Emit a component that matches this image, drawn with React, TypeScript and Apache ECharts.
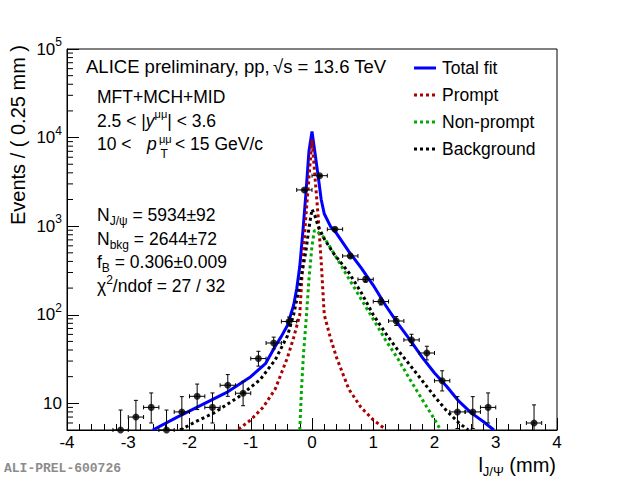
import React, { useRef, useEffect } from "react";
import * as echarts from "echarts";

const FONT = '"Liberation Sans", Arial, Helvetica, sans-serif';

// Data histogram (bins of 0.25 mm), only the bins visible above the y minimum
const binCenters = [
  -3.125, -2.875, -2.625, -2.375, -2.125, -1.875, -1.625, -1.375, -1.125, -0.875, -0.625, -0.375, -0.125,
  0.125, 0.375, 0.625, 0.875, 1.125, 1.375, 1.625, 1.875, 2.125, 2.375, 2.625, 2.875, 3.625,
];
const counts = [5, 7, 9, 5, 8, 12, 9, 16, 13, 32, 48, 84, 2565, 3715, 922, 461, 251, 141, 85, 52, 37, 18, 8, 8, 9, 6];
const errLow = [2.2, 2.6, 3.0, 2.2, 2.8, 3.5, 3.0, 4.0, 3.6, 5.7, 6.9, 9.2, 51, 61, 30, 21, 16, 12, 9.2, 7.2, 6.1, 4.2, 2.8, 2.8, 3.0, 2.4];
const errHigh = [3.4, 3.8, 4.1, 3.4, 3.9, 4.5, 4.1, 5.1, 4.7, 6.7, 7.9, 10.2, 52, 62, 31, 22, 17, 13, 10.2, 8.2, 7.1, 5.3, 3.9, 3.9, 4.1, 3.6];
const binHalf = 0.125;

// Fit components
const totalX = [-2.6, -2.2, -1.8, -1.4, -1.0, -0.76, -0.6, -0.5, -0.4, -0.3, -0.25, -0.2, -0.15, -0.1, -0.05, 0, 0.05, 0.1, 0.15, 0.2, 0.3, 0.4, 0.6, 0.8, 1.0, 1.2, 1.4, 1.6, 1.8, 2.0, 2.2, 2.4, 2.6, 2.8, 2.97];
const totalY = [5.0, 7.0, 9.6, 13.2, 20, 28, 44, 57, 76, 128, 195, 350, 850, 2300, 7000, 11700, 6600, 3700, 2000, 1380, 1000, 830, 520, 340, 215, 128, 80, 52, 33, 22, 15.5, 10.5, 7.8, 6.2, 5.0];

const promptX = [-1.2, -1.0, -0.8, -0.6, -0.4, -0.3, -0.2, -0.15, -0.1, -0.05, 0, 0.05, 0.1, 0.15, 0.2, 0.3, 0.4, 0.6, 0.8, 1.0, 1.2];
const promptY = [5.1, 6.5, 9.0, 14.5, 33, 55, 100, 400, 1300, 3500, 9500, 3500, 1300, 400, 100, 55, 33, 14.5, 9.0, 6.5, 5.1];

const nonPromptX = [-0.2, -0.17, -0.14, -0.1, -0.05, 0, 0.04, 0.1, 0.2, 0.4, 0.6, 0.8, 1.0, 1.2, 1.4, 1.6, 1.8, 2.0, 2.1];
const nonPromptY = [5.0, 15, 35, 80, 250, 600, 900, 850, 740, 440, 257, 151, 89, 52, 32, 18.6, 11, 6.6, 5.0];

const bkgX = [-2.15, -1.9, -1.6, -1.2, -0.85, -0.6, -0.4, -0.3, -0.2, -0.1, -0.05, 0, 0.05, 0.1, 0.2, 0.35, 0.6, 0.8, 1.0, 1.2, 1.4, 1.6, 1.8, 2.0, 2.2, 2.4, 2.55];
const bkgY = [5.0, 6.2, 7.8, 11.8, 18.4, 31, 58, 100, 215, 520, 950, 1550, 1300, 1000, 720, 494, 300, 180, 100, 62, 40, 27, 18, 12, 8.2, 6.0, 5.0];

const yMin = 5;
const yMax = 100000;
const yMinorTicks = [
  6, 7, 8, 9, 20, 30, 40, 50, 60, 70, 80, 90, 200, 300, 400, 500, 600, 700, 800, 900,
  2000, 3000, 4000, 5000, 6000, 7000, 8000, 9000, 20000, 30000, 40000, 50000, 60000, 70000, 80000, 90000,
];

const legendNames = ["Total fit", "Prompt", "Non-prompt", "Background"];
const legendColors = ["#0000ff", "#aa0000", "#00aa00", "#000000"];

const zip = (xs: number[], ys: number[]) => xs.map((x, i) => [x, ys[i]]);

const richBase = {
  m: { fontSize: 17.5, lineHeight: 24, verticalAlign: "middle", fontFamily: FONT },
  big: { fontSize: 18.5, lineHeight: 24, verticalAlign: "middle", fontFamily: FONT },
  i: { fontSize: 17.5, lineHeight: 24, verticalAlign: "middle", fontFamily: FONT, fontStyle: "italic" },
  sub: { fontSize: 12, lineHeight: 12, verticalAlign: "bottom", fontFamily: FONT },
  sup: { fontSize: 12, lineHeight: 12, verticalAlign: "top", fontFamily: FONT },
  supm: { fontSize: 11, lineHeight: 14, verticalAlign: "top", fontFamily: FONT },
};

function label(text: string, x: number, y: number, extra: any = {}) {
  return {
    type: "text",
    x,
    y,
    silent: true,
    style: {
      text,
      rich: richBase,
      font: `17.5px ${FONT}`,
      lineHeight: 24,
      fill: "#000",
      align: "left",
      verticalAlign: "middle",
      textAlign: "left",
      textVerticalAlign: "middle",
      ...extra,
    },
  };
}

export default function App() {
  const chartRef = useRef<HTMLDivElement>(null);

  useEffect(() => {
    if (!chartRef.current) return;
    const chart = echarts.init(chartRef.current, null, { renderer: "svg" });

    const dotted = (color: string) => ({ color, width: 3, type: [3, 3] as any, cap: "butt" as const });

    const legendGraphics: any[] = [];
    legendNames.forEach((name, i) => {
      const yc = 68 + i * 27;
      legendGraphics.push({
        type: "line",
        silent: true,
        shape: { x1: 414, y1: yc, x2: 436, y2: yc },
        style: { stroke: legendColors[i], lineWidth: 3, lineDash: i === 0 ? null : [3, 3] },
      });
      legendGraphics.push(label(`{m|${name}}`, 442, yc));
    });

    const option: any = {
      animation: false,
      grid: { left: 67, right: 63, top: 49, bottom: 50, show: true, borderColor: "#000", borderWidth: 1, backgroundColor: "transparent" },
      xAxis: {
        type: "value",
        min: -4,
        max: 4,
        interval: 1,
        axisLine: { onZero: false, lineStyle: { color: "#000", width: 1 } },
        axisTick: { inside: true, length: 12, lineStyle: { color: "#000" } },
        minorTick: { show: true, splitNumber: 5, length: 6, lineStyle: { color: "#000" } },
        splitLine: { show: false },
        axisLabel: { color: "#000", fontSize: 17, fontFamily: FONT, margin: 4 },
      },
      yAxis: {
        type: "log",
        min: yMin,
        max: yMax,
        logBase: 10,
        axisLine: { onZero: false, lineStyle: { color: "#000", width: 1 } },
        axisTick: { inside: true, length: 12, lineStyle: { color: "#000" } },
        splitLine: { show: false },
        axisLabel: {
          color: "#000",
          margin: 5,
          formatter: (v: number) => {
            const lg = Math.log10(v);
            const e = Math.round(lg);
            if (Math.abs(lg - e) > 1e-6) return "";
            return e === 1 ? "{b|10}" : `{b|10}{s|${e}}`;
          },
          rich: {
            b: { fontSize: 17, lineHeight: 26, verticalAlign: "middle", fontFamily: FONT, color: "#000" },
            s: { fontSize: 12, lineHeight: 12, verticalAlign: "top", fontFamily: FONT, color: "#000" },
          },
        },
      },
      series: [
        {
          name: "Total fit",
          type: "line",
          data: zip(totalX, totalY),
          symbol: "none",
          lineStyle: { color: "#0000ff", width: 3 },
          z: 2,
        },
        { name: "Prompt", type: "line", data: zip(promptX, promptY), symbol: "none", lineStyle: dotted("#aa0000"), z: 3 },
        { name: "Non-prompt", type: "line", data: zip(nonPromptX, nonPromptY), symbol: "none", lineStyle: dotted("#00aa00"), z: 3 },
        { name: "Background", type: "line", data: zip(bkgX, bkgY), symbol: "none", lineStyle: dotted("#000000"), z: 3 },
        {
          type: "custom",
          silent: true,
          z: 4,
          data: binCenters.map((x, i) => [x, counts[i], errLow[i], errHigh[i]]),
          renderItem: (_p: any, api: any) => {
            const x = api.value(0);
            const y = api.value(1);
            const lo = api.value(2);
            const hi = api.value(3);
            const l = api.coord([x - binHalf, y]);
            const r = api.coord([x + binHalf, y]);
            const t = api.coord([x, Math.min(y + hi, yMax)]);
            const b = api.coord([x, Math.max(y - lo, yMin)]);
            const st = { stroke: "#000", lineWidth: 1 };
            const kids: any[] = [
              { type: "line", shape: { x1: l[0], y1: l[1], x2: r[0], y2: r[1] }, style: st },
              { type: "line", shape: { x1: t[0], y1: t[1], x2: b[0], y2: b[1] }, style: st },
              { type: "line", shape: { x1: l[0], y1: l[1] - 2, x2: l[0], y2: l[1] + 2 }, style: st },
              { type: "line", shape: { x1: r[0], y1: r[1] - 2, x2: r[0], y2: r[1] + 2 }, style: st },
            ];
            if (y + hi < yMax) kids.push({ type: "line", shape: { x1: t[0] - 2, y1: t[1], x2: t[0] + 2, y2: t[1] }, style: st });
            if (y - lo > yMin) kids.push({ type: "line", shape: { x1: b[0] - 2, y1: b[1], x2: b[0] + 2, y2: b[1] }, style: st });
            return { type: "group", children: kids };
          },
        },
        {
          type: "scatter",
          data: zip(binCenters, counts),
          symbol: "circle",
          symbolSize: 7,
          itemStyle: { color: "#000" },
          silent: true,
          z: 5,
        },
        {
          type: "custom",
          silent: true,
          z: 5,
          data: yMinorTicks.map((v) => [-4, v]),
          renderItem: (_p: any, api: any) => {
            const p = api.coord([api.value(0), api.value(1)]);
            return { type: "line", shape: { x1: p[0], y1: p[1], x2: p[0] + 6, y2: p[1] }, style: { stroke: "#000", lineWidth: 1 } };
          },
        },
      ],
      graphic: [
        {
          type: "text",
          x: 18,
          y: 135,
          rotation: Math.PI / 2,
          silent: true,
          style: {
            text: "Events / ( 0.25 mm )",
            font: `20px ${FONT}`,
            fill: "#000",
            align: "center",
            verticalAlign: "middle",
            textAlign: "center",
            textVerticalAlign: "middle",
          },
        },
        label("{xm|l}{xs|J/Ψ}{xm| (mm)}", 556, 465, {
          align: "right",
          textAlign: "right",
          rich: {
            xm: { fontSize: 20, lineHeight: 26, verticalAlign: "middle", fontFamily: FONT },
            xs: { fontSize: 13, lineHeight: 13, verticalAlign: "bottom", fontFamily: FONT },
          },
        }),
        {
          type: "text",
          x: 4,
          y: 468,
          silent: true,
          style: {
            text: "ALI-PREL-600726",
            font: `bold 13px "Liberation Mono", "DejaVu Sans Mono", monospace`,
            fill: "#8c8c8c",
            align: "left",
            verticalAlign: "middle",
            textAlign: "left",
            textVerticalAlign: "middle",
          },
        },
        label("{big|ALICE preliminary, pp,}", 86, 66.5),
        label("{big|√s = 13.6 TeV}", 273, 66.5),
        label("{m|MFT+MCH+MID}", 97, 97),
        label("{m|2.5 < |}{i|y}{supm|μμ}{m|| < 3.6}", 97, 120.5),
        label("{m|10 <}", 97, 143.5),
        label("{i|p}", 147, 143.5),
        label("{s|μμ}", 159, 139, { rich: { s: { fontSize: 11, fontFamily: FONT } } }),
        label("{s|T}", 160.5, 153.5, { rich: { s: { fontSize: 12, fontFamily: FONT } } }),
        label("{m|< 15 GeV/c}", 175, 143.5),
        label("{m|N}{sub|J/ψ}{m| = 5934±92}", 97, 215),
        label("{m|N}{sub|bkg}{m| = 2644±72}", 97, 238.5),
        label("{m|f}{sub|B}{m| = 0.306±0.009}", 97, 262),
        label("{m|χ}{sup|2}{m|/ndof = 27 / 32}", 97, 285.5),
        ...legendGraphics,
      ],
    };

    chart.setOption(option);
    return () => chart.dispose();
  }, []);

  return (
    <div
      ref={chartRef}
      style={{ position: "fixed", left: 0, top: 0, width: 620, height: 480, background: "#fff" }}
    />
  );
}
